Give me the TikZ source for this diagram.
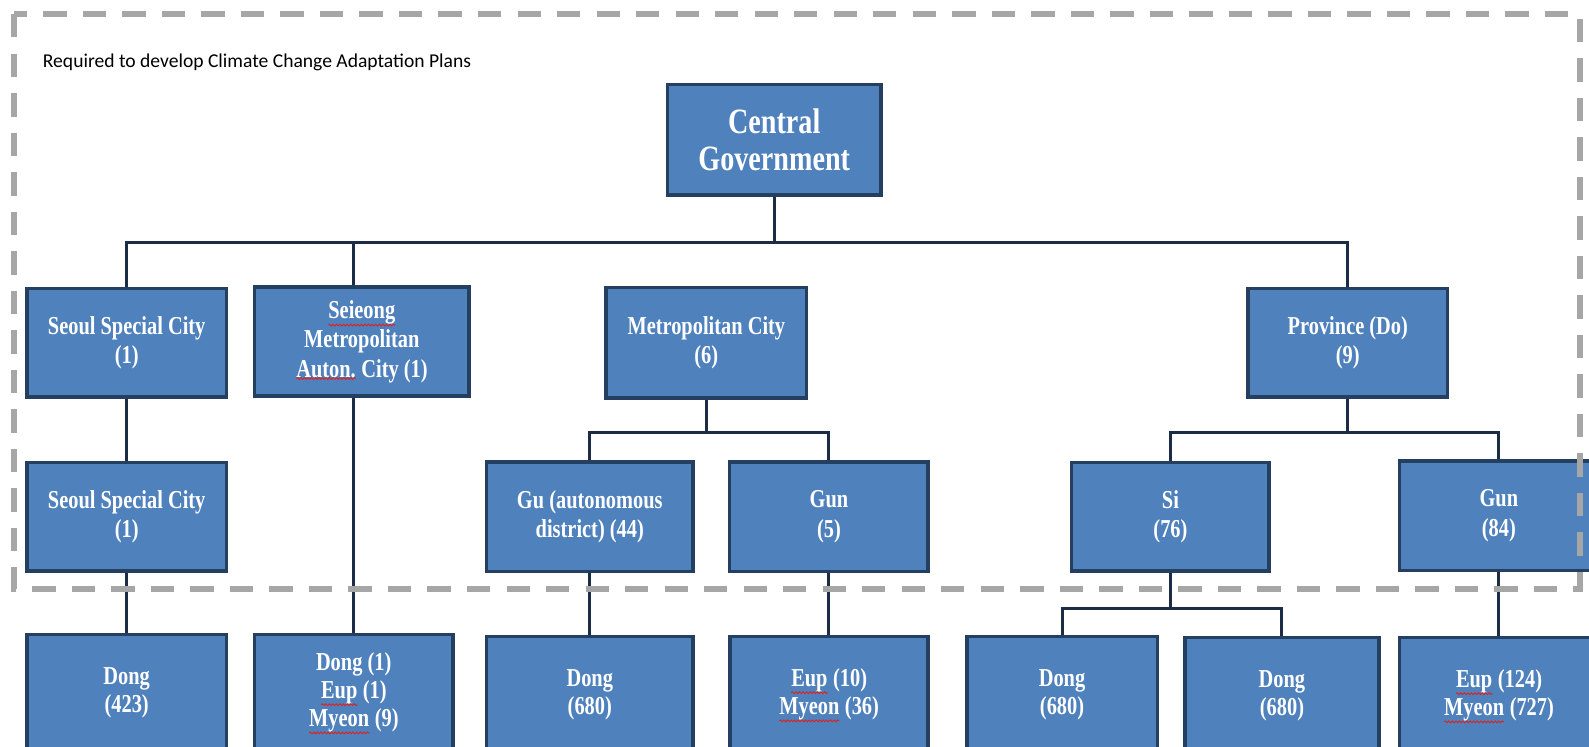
\documentclass[tikz,border=0pt]{standalone}
\usepackage{fontspec}
\usetikzlibrary{positioning,calc,decorations.pathmorphing}
\newfontfamily\boxfont{Liberation Serif}[FakeStretch=0.79]
\newfontfamily\notefont{Carlito}
\definecolor{boxblue}{HTML}{4F81BD}
\definecolor{boxedge}{HTML}{243F60}
\definecolor{linkcol}{HTML}{1C2C44}
\definecolor{framegray}{HTML}{A6A6A6}
\definecolor{spellred}{HTML}{E0201C}
\newcommand{\redwave}[1]{\tikz[baseline=(w.base)]{\node[inner sep=0pt, outer sep=0pt, minimum size=0pt,
        draw=none, fill=none] (w) {#1};
    \draw[spellred, line width=0.5pt, decorate, decoration={snake, amplitude=0.5pt, segment length=2pt}]
        ([yshift=-0.6pt]w.south west) -- ([yshift=-0.6pt]w.south east);}}

\begin{document}
\begin{tikzpicture}[x=0.02cm, y=-0.02cm,
    box/.style={draw=boxedge, fill=boxblue, line width=2pt, text=white, align=center,
        font=\boxfont\bfseries\fontsize{14.5}{16.5}\selectfont,
        minimum width=3.94cm, minimum height=2.14cm, inner sep=2pt},
    leaf/.style={box, minimum height=2.32cm,
        font=\boxfont\bfseries\fontsize{14.5}{15.8}\selectfont},
    link/.style={draw=linkcol, line width=1.7pt},
    frame/.style={draw=framegray, line width=3.4pt, dash pattern=on 0.46cm off 0.32cm}]
    \useasboundingbox (0,0) rectangle (1568,737);
    \clip (0,0) rectangle (1568,737);

    % top level
    \node[box, minimum width=4.22cm, minimum height=2.18cm,
        font=\boxfont\bfseries\fontsize{20}{21}\selectfont] (central) at (764,138) {Central\\Government};

    % second level
    \node[box] (seoul) at (125,338) {Seoul Special City\\(1)};
    \node[box, minimum width=4.24cm, minimum height=2.16cm] (sejong) at (357,337)
        {\redwave{Seieong}\\Metropolitan\\\redwave{Auton.} City (1)};
    \node[box, minimum width=3.96cm, minimum height=2.18cm] (metro) at (697,338) {Metropolitan City\\(6)};
    \node[box] (prov) at (1330,338) {Province (Do)\\(9)};

    % third level
    \node[box] (seoulB) at (125,510) {Seoul Special City\\(1)};
    \node[box, minimum width=4.08cm, minimum height=2.16cm] (gu) at (582,510) {Gu (autonomous\\district) (44)};
    \node[box, minimum width=3.92cm, minimum height=2.16cm] (gunM) at (818,510) {Gun\\(5)};
    \node[box, minimum width=3.9cm] (si) at (1155,510) {Si\\(76)};
    \node[box, minimum width=3.92cm, minimum height=2.16cm] (gunP) at (1479,509) {Gun\\(84)};

    % bottom level
    \node[leaf] (dongS) at (125,684) {Dong\\(423)};
    \node[leaf, minimum width=3.92cm] (sejongL) at (349,684)
        {Dong (1)\\\redwave{Eup} (1)\\\redwave{Myeon} (9)};
    \node[leaf, minimum width=4.08cm] (dongG) at (582,686) {Dong\\(680)};
    \node[leaf, minimum width=3.9cm] (eupM) at (818,686) {\redwave{Eup} (10)\\\redwave{Myeon} (36)};
    \node[leaf, minimum width=3.76cm] (dongA) at (1048,686) {Dong\\(680)};
    \node[leaf, minimum width=3.82cm] (dongB) at (1265,687) {Dong\\(680)};
    \node[leaf, minimum width=3.92cm] (eupP) at (1479,687) {\redwave{Eup} (124)\\\redwave{Myeon} (727)};

    % connectors
    \coordinate (topbus) at ($(central.south)+(0,45)$);
    \draw[link] (central.south) -- (topbus);
    \draw[link] (seoul.north) |- (topbus) -| (prov.north);
    \draw[link] (sejongL.north |- topbus) -- (sejongL.north |- sejong.north);
    \draw[link] (seoul.south) -- (seoulB.north);
    \draw[link] (seoulB.south) -- (dongS.north);
    \draw[link] (sejongL.north |- sejong.south) -- (sejongL.north);

    \coordinate (metrobus) at ($(metro.south)+(0,33)$);
    \draw[link] (metro.south) -- (metrobus);
    \draw[link] (gu.north) |- (metrobus) -| (gunM.north);
    \draw[link] (gu.south) -- (dongG.north);
    \draw[link] (gunM.south) -- (eupM.north);

    \coordinate (provbus) at ($(prov.south)+(0,34)$);
    \draw[link] (prov.south) -- (provbus);
    \draw[link] (si.north) |- (provbus) -| (gunP.north);
    \draw[link] (gunP.south) -- (eupP.north);

    \coordinate (sibus) at ($(si.south)+(0,35)$);
    \draw[link] (si.south) -- (sibus);
    \draw[link] (dongA.north) |- (sibus) -| (dongB.north);

    % scope of the plans
    \node[anchor=west, inner sep=0pt, font=\notefont\fontsize{11}{13}\selectfont] (note) at (42,62)
        {Required to develop Climate Change Adaptation Plans};
    \draw[frame] (14,14) rectangle (1559,581);
\end{tikzpicture}
\end{document}
